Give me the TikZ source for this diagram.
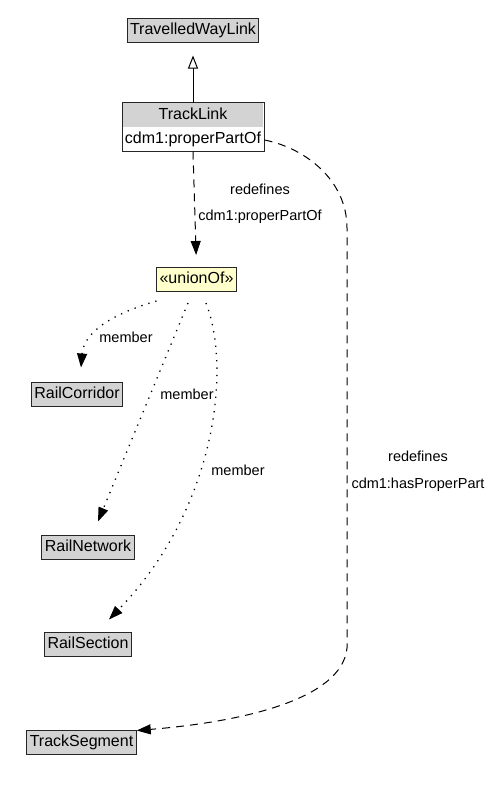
\documentclass[tikz,border=0pt]{standalone}
\usepackage{fontspec}
\setmainfont{Liberation Sans}
\usetikzlibrary{arrows.meta,positioning}
\definecolor{classgray}{RGB}{211,211,211}
\definecolor{unionyellow}{RGB}{255,255,204}
\tikzstyle{classbox} = [draw=black!85, fill=classgray, line width=1pt, rectangle, inner xsep=3pt, inner ysep=0pt, minimum height=24pt, text height=12pt, text depth=3.5pt, font=\fontsize{16}{18}\selectfont]
\tikzstyle{headpart} = [classbox, draw=none, minimum width=140pt]
\tikzstyle{attrpart} = [headpart, fill=white]
\tikzstyle{unionbox} = [classbox, fill=unionyellow]
\tikzstyle{edgelabel} = [inner sep=0pt, font=\fontsize{14.5}{16}\selectfont]
\tikzstyle{generalization} = [line width=1pt, -{Triangle[open, width=10pt, length=13pt, fill=white]}]
\tikzstyle{redefines} = [line width=1pt, dash pattern=on 8pt off 6pt, -{Triangle[width=10pt, length=14pt]}]
\tikzstyle{member} = [line width=1.3pt, dash pattern=on 1.3pt off 6pt, -{Triangle[width=10pt, length=14pt]}]
\begin{document}
\begin{tikzpicture}[x=1pt, y=-1pt]
					\useasboundingbox (0,0) rectangle (496,793);
					\node [classbox] (travelled) at (193,30) {TravelledWayLink};
					\node [headpart] (tracklink) at (193,115) {TrackLink};
					\node [attrpart] (tracklinkattr) at (193,139) {cdm1:properPartOf};
					\draw [black!85, line width=1pt] (tracklink.north west) rectangle (tracklinkattr.south east);
					\node [unionbox] (union) at (196.5,279.5) {«unionOf»};
					\node [classbox] (corridor) at (77,394) {RailCorridor};
					\node [classbox] (network) at (88,547) {RailNetwork};
					\node [classbox] (section) at (88,644) {RailSection};
					\node [classbox] (trackseg) at (81.5,742) {TrackSegment};
					\draw [generalization, shorten >=13pt] (tracklink.north) -- (travelled.south);
					\draw [redefines, shorten >=12pt] (tracklinkattr.south) -- (union.north);
					\node [edgelabel] (redef1) at (260,189) {redefines};
					\node [edgelabel] (redef1prop) at (260,217) {cdm1:properPartOf};
					\draw [redefines] ([yshift=-1pt]tracklinkattr.east) .. controls (305,148) and (347,180) .. (347,228) -- (347,648) .. controls (342,700) and (240,722) .. ([yshift=-1pt]trackseg.north east);
					\node [edgelabel] (redef2) at (418,456) {redefines};
					\node [edgelabel] (redef2prop) at (418,485) {cdm1:hasProperPart};
					\draw [member] ([xshift=-40pt, yshift=-9pt]union.south) .. controls (118,312) and (84,330) .. ([xshift=4pt, yshift=14pt]corridor.north);
					\node [edgelabel] (member1) at (126,337) {member};
					\draw [member] ([xshift=-8.5pt, yshift=-11pt]union.south) -- ([xshift=10pt, yshift=13pt]network.north);
					\node [edgelabel] (member2) at (187,394) {member};
					\draw [member] ([xshift=9.5pt, yshift=-11pt]union.south) .. controls (232,370) and (215,510) .. ([xshift=21pt, yshift=12pt]section.north);
					\node [edgelabel] (member3) at (238,470) {member};
				\end{tikzpicture}
\end{document}
